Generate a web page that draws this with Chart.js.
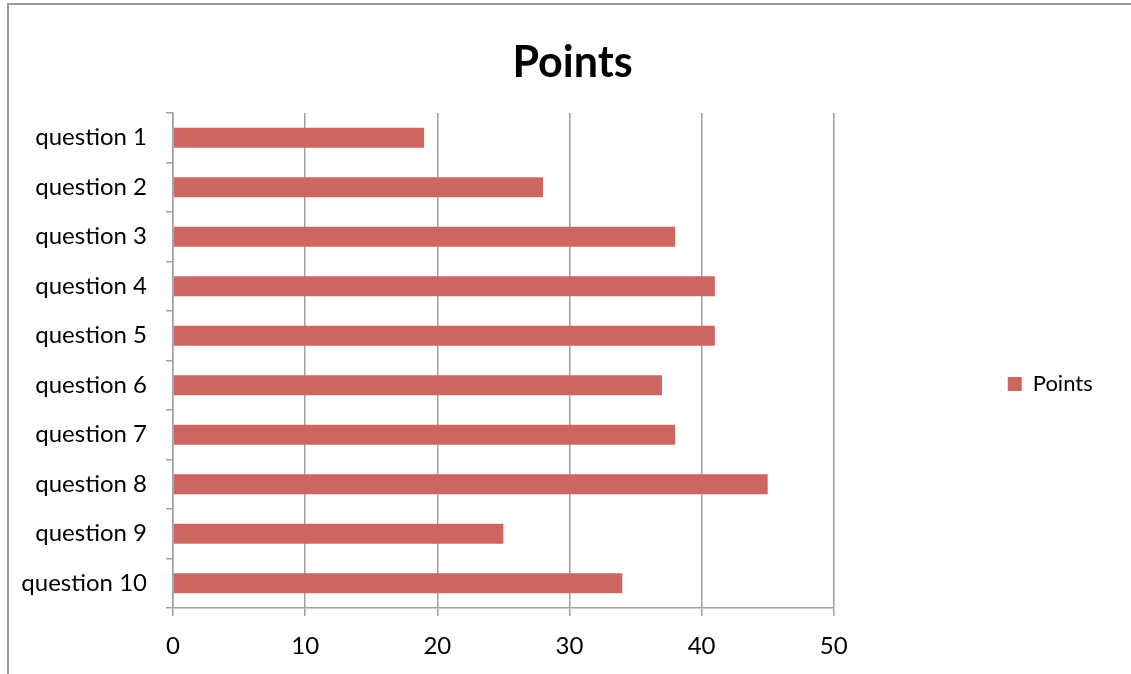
<!DOCTYPE html>
<html>
<head>
<meta charset="utf-8">
<script src="https://cdn.jsdelivr.net/npm/chart.js@4/dist/chart.umd.min.js"></script>
<style>
  html, body { margin: 0; padding: 0; background: #ffffff; }
  #wrap { position: relative; width: 1131px; height: 674px; overflow: hidden; }
  #frame { position: absolute; left: 7px; top: 3px; width: 1200px; height: 700px;
           border-top: 2px solid #9a9a9a; border-left: 2px solid #9a9a9a; }
  canvas { position: absolute; left: 0; top: 0; }
</style>
</head>
<body>
<div id="wrap">
  <div id="frame"></div>
  <canvas id="c" width="1131" height="674"></canvas>
</div>
<script>
const categories = ["question 1", "question 2", "question 3", "question 4", "question 5",
                    "question 6", "question 7", "question 8", "question 9", "question 10"];
const pointsValues = [19, 28, 38, 41, 41, 37, 38, 45, 25, 34];
const seriesName = "Points";
const chartTitle = "Points";
const xTicks = [0, 10, 20, 30, 40, 50];

const FONT = "Lato, 'Liberation Sans', sans-serif";
const TICK_SIZE = 24;
const LEGEND_SIZE = 22;
const GRID = "#a0a0a0";

// measure widest category label so right-aligned labels can sit 26px left of the axis
const mctx = document.createElement("canvas").getContext("2d");
mctx.font = "normal " + TICK_SIZE + "px " + FONT;
const widestLabel = Math.max(...categories.map(c => mctx.measureText(c).width));

new Chart(document.getElementById("c"), {
  type: "bar",
  data: {
    labels: categories,
    datasets: [{
      label: seriesName,
      data: pointsValues,
      backgroundColor: "#cd6661",
      borderWidth: 0,
      categoryPercentage: 0.4,
      barPercentage: 1.0
    }]
  },
  options: {
    indexAxis: "y",
    responsive: false,
    animation: false,
    layout: { padding: { left: 50, right: 36, top: 0, bottom: 0 } },
    plugins: {
      title: {
        display: true,
        text: chartTitle,
        color: "#000000",
        font: { family: FONT, size: 43, weight: "bold" },
        padding: { top: 37, bottom: 24.4 }
      },
      legend: {
        display: true,
        position: "right",
        fullSize: false,
        align: "center",
        title: { display: true, text: "", font: { size: 10 }, padding: { top: 35, bottom: 0 } },
        labels: {
          color: "#000000",
          font: { family: FONT, size: LEGEND_SIZE },
          boxWidth: 14,
          boxHeight: 14,
          padding: 174
        }
      },
      tooltip: { enabled: false }
    },
    scales: {
      x: {
        type: "linear",
        position: "bottom",
        min: xTicks[0],
        max: xTicks[xTicks.length - 1],
        afterBuildTicks: (s) => { s.ticks = xTicks.map(v => ({ value: v })); },
        afterFit: (s) => { s.height = 66; },
        ticks: {
          color: "#000000",
          font: { family: FONT, size: TICK_SIZE },
          padding: 16,
          maxRotation: 0
        },
        grid: { color: GRID, lineWidth: 1.5, tickLength: 8, drawOnChartArea: true },
        border: { display: true, color: GRID, width: 1.5 }
      },
      y: {
        type: "category",
        position: "left",
        afterFit: (s) => { s.width = 123; },
        ticks: {
          color: "#000000",
          font: { family: FONT, size: TICK_SIZE },
          mirror: true,
          crossAlign: "far",
          padding: -26 - widestLabel
        },
        grid: { offset: true, color: GRID, lineWidth: 1.5, tickLength: 7, drawOnChartArea: false, drawTicks: true },
        border: { display: true, color: GRID, width: 1.5 }
      }
    }
  }
});
</script>
</body>
</html>
